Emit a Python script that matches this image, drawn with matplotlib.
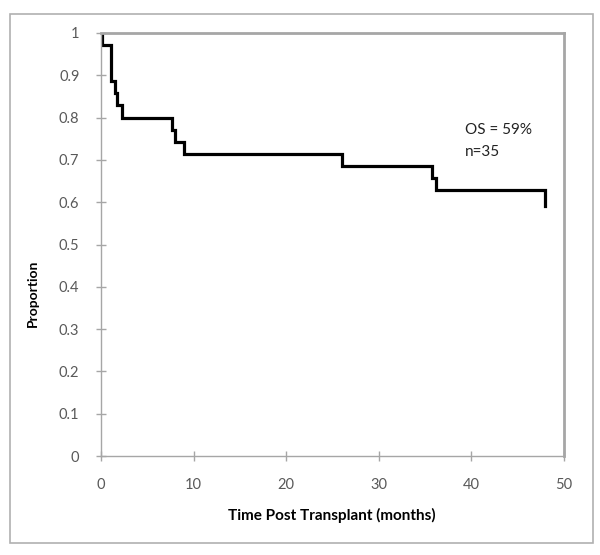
import matplotlib
matplotlib.use("Agg")
import matplotlib.pyplot as plt
from matplotlib.patches import Rectangle

# Kaplan-Meier step data (time in months, survival proportion after the event)
times = [0.0, 0.15, 1.1, 1.5, 1.75, 2.3, 7.7, 8.0, 8.95, 26.0, 35.7, 36.2, 47.95, 48.0]
surv = [1.0, 0.971, 0.886, 0.857, 0.829, 0.80, 0.771, 0.743, 0.714, 0.686, 0.657, 0.629, 0.59, 0.59]

x_ticks = [0, 10, 20, 30, 40, 50]
y_ticks = [0, 0.1, 0.2, 0.3, 0.4, 0.5, 0.6, 0.7, 0.8, 0.9, 1.0]
y_tick_labels = ["0", "0.1", "0.2", "0.3", "0.4", "0.5", "0.6", "0.7", "0.8", "0.9", "1"]
annot_lines = ["OS = 59%", "n=35"]

plt.rcParams['font.family'] = ['Lato', 'DejaVu Sans']

fig = plt.figure(figsize=(6.0, 5.55), dpi=100)
W, H = 600, 555
ax = fig.add_axes([101 / W, 1 - 456 / H, (564 - 101) / W, (456 - 33) / H])

# Outer chart border
fig.patches.append(Rectangle((10 / W, 1 - 543 / H), (593 - 10) / W, (543 - 14) / H,
                             transform=fig.transFigure, fill=False,
                             edgecolor='#b0b0b0', linewidth=1.2))

ax.step(times, surv, where='post', color='black', linewidth=2.3, solid_joinstyle='miter')

ax.set_xlim(0, 50)
ax.set_ylim(0, 1)
ax.set_xticks(x_ticks)
ax.set_yticks(y_ticks)
ax.set_yticklabels(y_tick_labels)

gray = '#a6a6a6'
for side in ['left', 'bottom']:
    ax.spines[side].set_color(gray)
    ax.spines[side].set_linewidth(1.0)
for side in ['top', 'right']:
    ax.spines[side].set_color(gray)
    ax.spines[side].set_linewidth(2.0)

ax.tick_params(axis='both', direction='inout', length=7, width=1.0, color=gray,
               labelsize=10.5, labelcolor='#595959')
ax.tick_params(axis='x', pad=12)
ax.tick_params(axis='y', pad=12)

fig.text(332 / W, 1 - 515 / H, "Time Post Transplant (months)", fontsize=11,
         fontweight='bold', ha='center', va='center', color='black')
fig.text(33 / W, 1 - 293 / H, "Proportion", fontsize=10, fontweight='bold',
         rotation=90, ha='center', va='center', color='black')

ax.text(39.3, 0.771, annot_lines[0], fontsize=11, color='#222222', va='center', ha='left')
ax.text(39.3, 0.719, annot_lines[1], fontsize=11, color='#222222', va='center', ha='left')

fig.savefig("out.png", dpi=100)
